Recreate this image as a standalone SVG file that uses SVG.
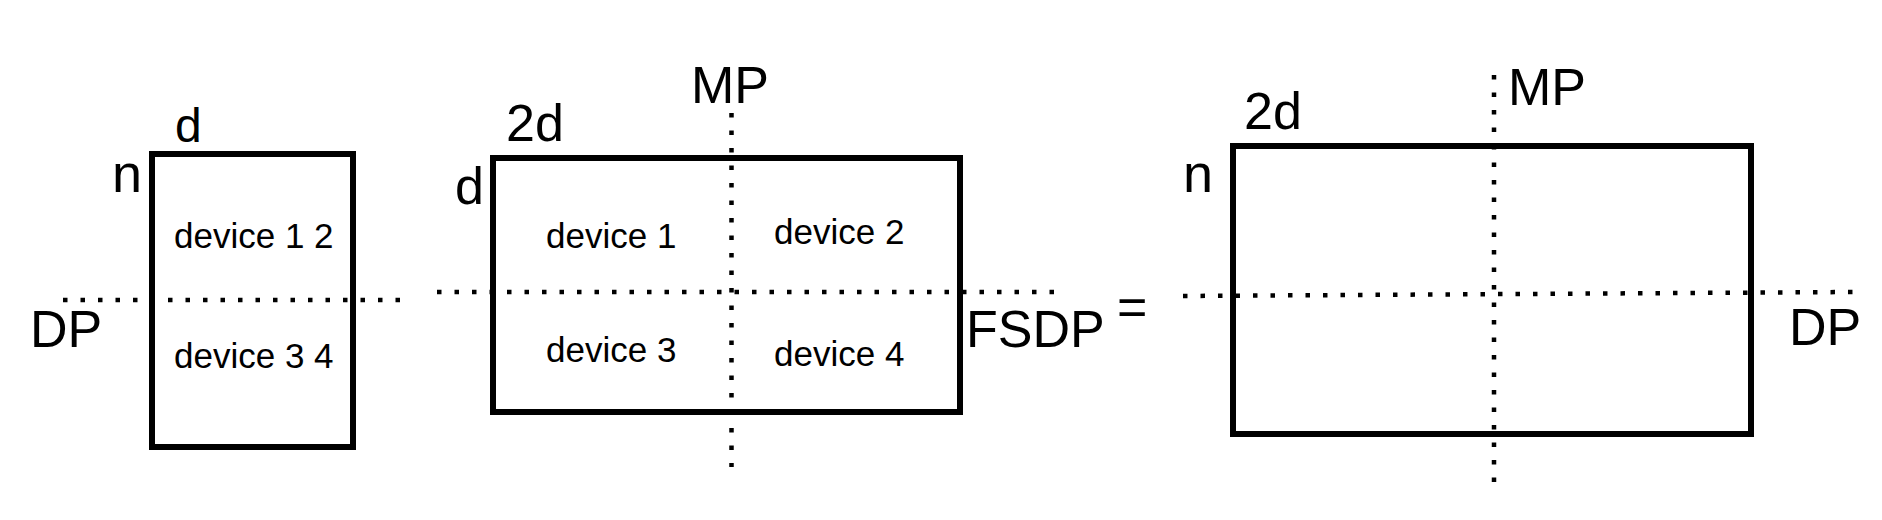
<svg xmlns="http://www.w3.org/2000/svg" width="1882" height="520" viewBox="0 0 1882 520">
<style>
.box{fill:none;stroke:#000;stroke-width:6}
.dot{fill:none;stroke:#000;stroke-width:4.5;stroke-dasharray:4.5 13}
.lbl{font-family:"Liberation Sans",Arial,sans-serif;font-size:52px;fill:#000}
.dev{font-family:"Liberation Sans",Arial,sans-serif;font-size:35px;fill:#000}
</style>
<rect width="1882" height="520" fill="#fff"/>
<g id="matrix1">
<rect class="box" x="152" y="154" width="201" height="293"/>
<text class="lbl" x="175" y="142" style="font-size:48px">d</text>
<text class="lbl" x="112" y="192" style="font-size:54px">n</text>
<text class="dev" x="174" y="248">device 1 2</text>
<text class="dev" x="174" y="368">device 3 4</text>
<text class="lbl" x="30" y="347">DP</text>
</g>
<g id="matrix2">
<rect class="box" x="493" y="158" width="467" height="254"/>
<text class="lbl" x="506" y="141">2d</text>
<text class="lbl" x="455" y="204">d</text>
<text class="lbl" x="691" y="103">MP</text>
<text class="dev" x="546" y="248">device 1</text>
<text class="dev" x="774" y="244">device 2</text>
<text class="dev" x="546" y="362">device 3</text>
<text class="dev" x="774" y="366">device 4</text>
<text class="lbl" x="966" y="347">FSDP</text>
</g>
<g id="equals">
<text class="lbl" x="1117" y="325">=</text>
</g>
<g id="matrix3">
<rect class="box" x="1233" y="146" width="518" height="288"/>
<text class="lbl" x="1244" y="129">2d</text>
<text class="lbl" x="1183" y="192" style="font-size:54px">n</text>
<text class="lbl" x="1508" y="105">MP</text>
<text class="lbl" x="1789" y="345">DP</text>
</g>
<g id="connectors">
<line class="dot" x1="63" y1="300" x2="402" y2="300"/>
<line class="dot" x1="731.5" y1="113" x2="731.5" y2="467"/>
<line class="dot" x1="437" y1="292" x2="1061" y2="292"/>
<line class="dot" x1="1494" y1="75" x2="1494" y2="482"/>
<line class="dot" x1="1183" y1="296" x2="1853" y2="292"/>
</g>
</svg>
